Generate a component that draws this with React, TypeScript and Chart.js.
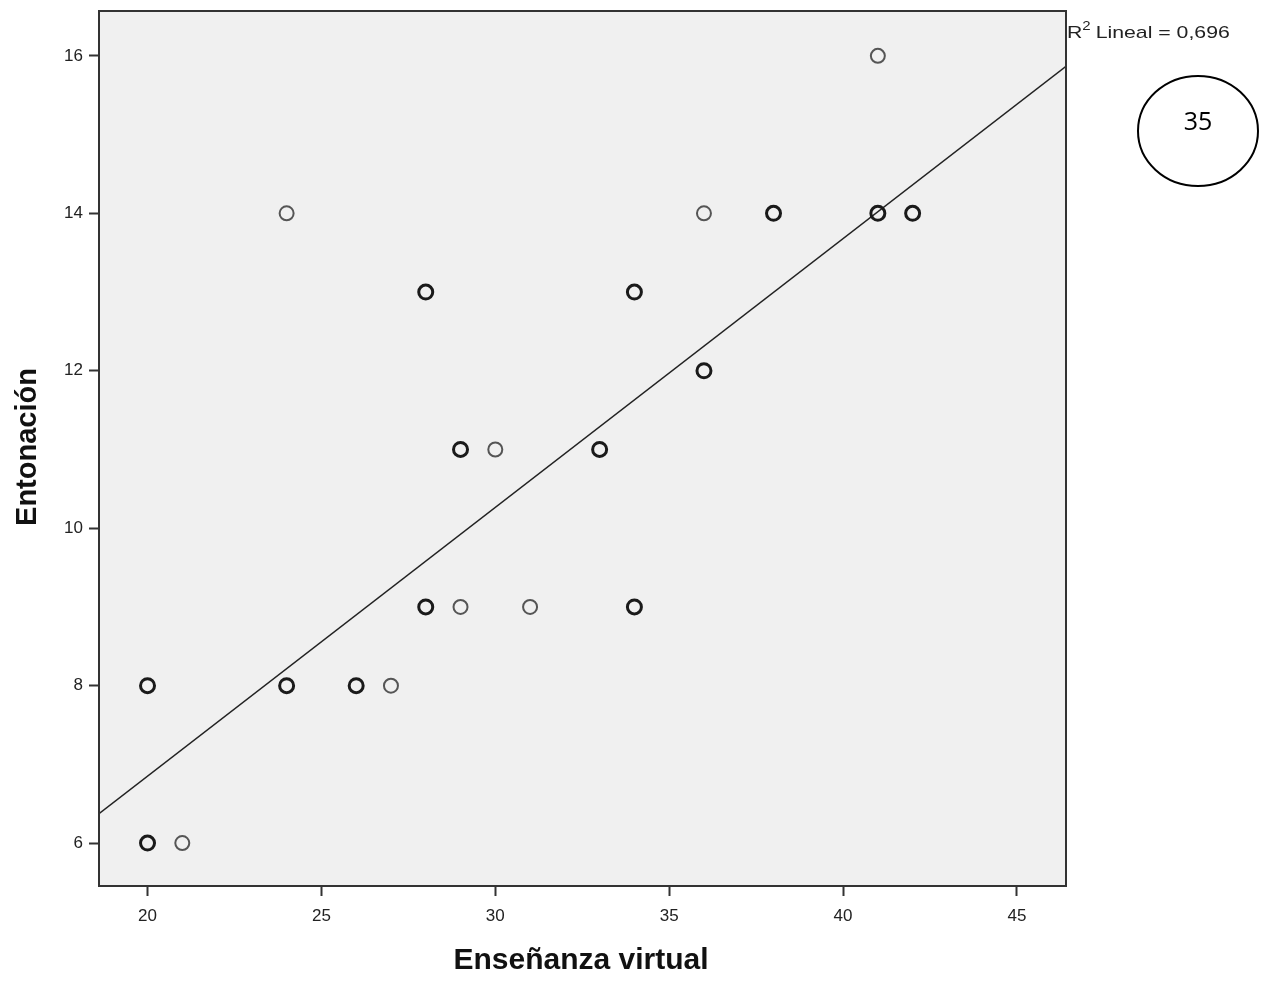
import React, { useEffect, useRef } from "react";
import { Chart, registerables } from "chart.js";

Chart.register(...registerables);

// Data
const ensenanzaVirtual = [41, 24, 36, 38, 41, 42, 28, 34, 36, 29, 30, 33, 28, 29, 31, 34, 20, 24, 26, 27, 20, 21];
const entonacion = [16, 14, 14, 14, 14, 14, 13, 13, 12, 11, 11, 11, 9, 9, 9, 9, 8, 8, 8, 8, 6, 6];
// number of overlapping cases (drawn with a heavier outline)
const casos = [1, 1, 1, 2, 2, 2, 2, 2, 2, 2, 1, 2, 2, 1, 1, 2, 2, 2, 2, 1, 2, 1];

const xTicks = [20, 25, 30, 35, 40, 45];
const yTicks = [6, 8, 10, 12, 14, 16];

const X_MIN = 18.605;
const X_MAX = 46.41;
const Y_MIN = 5.455;
const Y_MAX = 16.57;

// Linear fit shown in the chart
const FIT_INTERCEPT = 0.023;
const FIT_SLOPE = 0.3414;
const R2_LABEL = "0,696";

const xTitle = "Enseñanza virtual";
const yTitle = "Entonación";
const circleLabel = "35";

export default function App() {
  const ref = useRef<HTMLCanvasElement | null>(null);

  useEffect(() => {
    if (!ref.current) return;
    const points = ensenanzaVirtual.map((x, i) => ({ x, y: entonacion[i] }));
    const fit = [
      { x: X_MIN, y: FIT_INTERCEPT + FIT_SLOPE * X_MIN },
      { x: X_MAX, y: FIT_INTERCEPT + FIT_SLOPE * X_MAX },
    ];

    const decor = {
      id: "decor",
      beforeDatasetsDraw(chart: any) {
        const { ctx, chartArea: a } = chart;
        ctx.save();
        ctx.fillStyle = "#f0f0f0";
        ctx.fillRect(a.left, a.top, a.right - a.left, a.bottom - a.top);
        ctx.restore();
      },
      afterDraw(chart: any) {
        const { ctx, chartArea: a } = chart;
        ctx.save();
        ctx.strokeStyle = "#333";
        ctx.lineWidth = 2;
        ctx.strokeRect(a.left, a.top, a.right - a.left, a.bottom - a.top);

        ctx.fillStyle = "#111";
        ctx.font = "bold 30px 'Liberation Sans', Arial, sans-serif";
        ctx.textAlign = "center";
        ctx.textBaseline = "middle";
        ctx.fillText(xTitle, 581, 961);
        ctx.save();
        ctx.translate(28, 447);
        ctx.rotate(-Math.PI / 2);
        ctx.font = "bold 29px 'Liberation Sans', Arial, sans-serif";
        ctx.fillText(yTitle, 0, 0);
        ctx.restore();

        // R² label (horizontally stretched like the reference)
        ctx.save();
        ctx.translate(a.right + 1, 0);
        ctx.scale(1.25, 1);
        ctx.textAlign = "left";
        ctx.textBaseline = "alphabetic";
        ctx.fillStyle = "#222";
        ctx.font = "17px 'Liberation Sans', Arial, sans-serif";
        let x = 0;
        ctx.fillText("R", x, 38);
        x += ctx.measureText("R").width;
        ctx.font = "12px 'Liberation Sans', Arial, sans-serif";
        ctx.fillText("2", x, 30);
        x += ctx.measureText("2").width + 4;
        ctx.font = "17px 'Liberation Sans', Arial, sans-serif";
        ctx.fillText("Lineal = " + R2_LABEL, x, 38);
        ctx.restore();

        // circled annotation
        ctx.beginPath();
        ctx.ellipse(1198, 131, 60, 55, 0, 0, Math.PI * 2);
        ctx.strokeStyle = "#000";
        ctx.lineWidth = 2;
        ctx.stroke();
        ctx.fillStyle = "#000";
        ctx.font = "25px 'Open Sans', sans-serif";
        ctx.textAlign = "center";
        ctx.textBaseline = "middle";
        ctx.fillText(circleLabel, 1198, 123);
        ctx.restore();
      },
    };

    const tickFont = { family: "'Liberation Sans', Arial, sans-serif", size: 17 };

    const chart = new Chart(ref.current, {
      type: "scatter",
      data: {
        datasets: [
          {
            type: "line",
            data: fit,
            borderColor: "#222",
            borderWidth: 1.5,
            pointRadius: 0,
            fill: false,
            order: 2,
          } as any,
          {
            data: points,
            backgroundColor: "rgba(0,0,0,0)",
            borderColor: casos.map((n) => (n > 1 ? "#1a1a1a" : "#555")),
            borderWidth: casos.map((n) => (n > 1 ? 3 : 2)),
            pointRadius: 7,
            order: 1,
          },
        ],
      },
      options: {
        animation: false,
        responsive: false,
        events: [],
        layout: { padding: { top: 11, right: 199, left: 0, bottom: 0 } },
        plugins: { legend: { display: false }, tooltip: { enabled: false } },
        scales: {
          x: {
            type: "linear",
            min: X_MIN,
            max: X_MAX,
            afterFit(scale: any) {
              scale.height = 95;
              scale.paddingLeft = 0;
              scale.paddingRight = 0;
            },
            afterBuildTicks(scale: any) {
              scale.ticks = xTicks.map((v) => ({ value: v }));
            },
            ticks: {
              includeBounds: false,
              color: "#222",
              padding: 10,
              maxRotation: 0,
              font: tickFont,
            },
            grid: { drawOnChartArea: false, tickLength: 10, tickColor: "#333", tickWidth: 2 },
            border: { display: false },
          },
          y: {
            type: "linear",
            min: Y_MIN,
            max: Y_MAX,
            afterFit(scale: any) {
              scale.width = 99;
              scale.paddingTop = 0;
              scale.paddingBottom = 0;
            },
            afterBuildTicks(scale: any) {
              scale.ticks = yTicks.map((v) => ({ value: v }));
            },
            ticks: {
              includeBounds: false,
              color: "#222",
              padding: 6,
              font: tickFont,
            },
            grid: { drawOnChartArea: false, tickLength: 10, tickColor: "#333", tickWidth: 2 },
            border: { display: false },
          },
        },
      },
      plugins: [decor],
    });
    return () => chart.destroy();
  }, []);

  return (
    <div style={{ position: "absolute", left: 0, top: 0, width: 1265, height: 981, background: "#fff" }}>
      <canvas ref={ref} width={1265} height={981} style={{ display: "block" }} />
    </div>
  );
}
